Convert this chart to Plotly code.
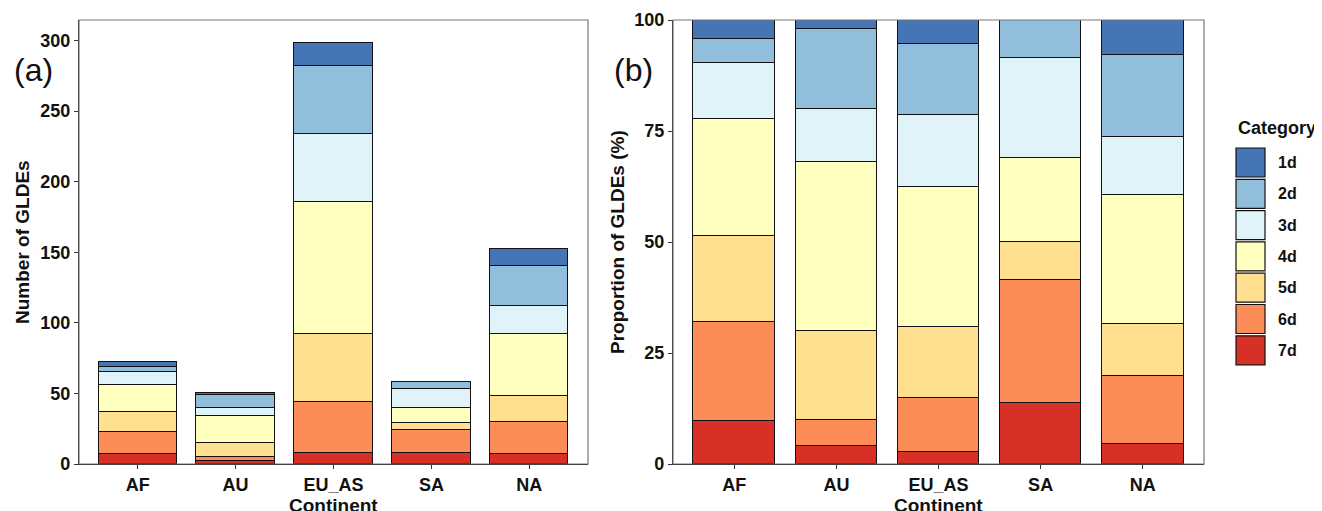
import plotly.graph_objects as go

W, H = 1322, 511
OFF = 8  # page body margin offset

continents = ["AF", "AU", "EU_AS", "SA", "NA"]
categories = ["1d", "2d", "3d", "4d", "5d", "6d", "7d"]
colors = {"1d": "#4575b4", "2d": "#91bfdb", "3d": "#e0f3f8", "4d": "#ffffbf",
          "5d": "#fee090", "6d": "#fc8d59", "7d": "#d73027"}

# counts per category, order follows continents
c_1d = [3, 1, 16, 0, 12]
c_2d = [4, 9, 48, 5, 28]
c_3d = [9, 6, 48, 13, 20]
c_4d = [19, 19, 94, 11, 44]
c_5d = [14, 10, 48, 5, 18]
c_6d = [16, 3, 36, 16, 23]
c_7d = [7, 2, 8, 8, 7]
counts = {"1d": c_1d, "2d": c_2d, "3d": c_3d, "4d": c_4d, "5d": c_5d, "6d": c_6d, "7d": c_7d}

totals = [sum(counts[c][i] for c in categories) for i in range(len(continents))]

# layout in reference pixels
PLOT_TOP, PLOT_BOT = 20, 464
PH = PLOT_BOT - PLOT_TOP
L_X0, L_X1 = 79, 588
R_X0, R_X1 = 673, 1204

def px_x(p):
    return (p - OFF) / W

def px_y(p):
    return (PLOT_BOT - p) / PH

FONT = "Liberation Sans, Arial, sans-serif"

fig = go.Figure()
xs = list(range(len(continents)))
for cat in reversed(categories):  # 7d at bottom
    fig.add_trace(go.Bar(x=xs, y=counts[cat], name=cat, width=0.8,
                         marker=dict(color=colors[cat], line=dict(color="#111111", width=1.2)),
                         xaxis="x", yaxis="y", showlegend=False))
for cat in reversed(categories):
    pct = [counts[cat][i] / totals[i] * 100 for i in range(len(continents))]
    fig.add_trace(go.Bar(x=xs, y=pct, name=cat, width=0.8,
                         marker=dict(color=colors[cat], line=dict(color="#111111", width=1.2)),
                         xaxis="x2", yaxis="y2", showlegend=False))

tickfont = dict(family=FONT, size=18, color="#111111")
common_x = dict(tickmode="array", tickvals=xs, ticktext=["<b>%s</b>" % c for c in continents],
                range=[-0.6, 4.6], showline=True, linecolor="#111111", linewidth=1.2,
                ticks="outside", ticklen=4, tickcolor="#333333", tickfont=tickfont,
                showgrid=False, zeroline=False, automargin=False)
common_y = dict(showline=True, linecolor="#111111", linewidth=1.2, ticks="outside", ticklen=4,
                tickcolor="#333333", tickfont=tickfont, showgrid=False, zeroline=False,
                automargin=False)

left_ticks = [0, 50, 100, 150, 200, 250, 300]
right_ticks = [0, 25, 50, 75, 100]

fig.update_layout(
    width=W, height=H, barmode="stack", bargap=0,
    margin=dict(l=0, r=0, t=PLOT_TOP - OFF, b=H - (PLOT_BOT - OFF)),
    plot_bgcolor="white", paper_bgcolor="white",
    xaxis=dict(domain=[px_x(L_X0), px_x(L_X1)], anchor="y", **common_x),
    yaxis=dict(domain=[0, 1], anchor="x", range=[0, 314.6], tickvals=left_ticks,
               ticktext=["<b>%d</b>" % v for v in left_ticks], **common_y),
    xaxis2=dict(domain=[px_x(R_X0), px_x(R_X1)], anchor="y2", **common_x),
    yaxis2=dict(domain=[0, 1], anchor="x2", range=[0, 100], tickvals=right_ticks,
                ticktext=["<b>%d</b>" % v for v in right_ticks], **common_y),
)

shapes = []
# panel borders (grey) top/right
for x0, x1 in [(L_X0, L_X1), (R_X0, R_X1)]:
    shapes.append(dict(type="rect", xref="paper", yref="paper", x0=px_x(x0), x1=px_x(x1),
                       y0=0, y1=1, line=dict(color="#777777", width=1.2), layer="above"))

annotations = []
title_font = dict(family=FONT, size=19, color="#111111")
annotations.append(dict(text="<b>Continent</b>", xref="paper", yref="paper",
                        x=px_x((L_X0 + L_X1) / 2), y=px_y(505), showarrow=False,
                        font=title_font, xanchor="center", yanchor="middle"))
annotations.append(dict(text="<b>Continent</b>", xref="paper", yref="paper",
                        x=px_x((R_X0 + R_X1) / 2), y=px_y(505), showarrow=False,
                        font=title_font, xanchor="center", yanchor="middle"))
annotations.append(dict(text="<b>Number of GLDEs</b>", xref="paper", yref="paper",
                        x=px_x(22), y=px_y(242), showarrow=False, textangle=-90,
                        font=title_font, xanchor="center", yanchor="middle"))
annotations.append(dict(text="<b>Proportion of GLDEs (%)</b>", xref="paper", yref="paper",
                        x=px_x(617), y=px_y(242), showarrow=False, textangle=-90,
                        font=title_font, xanchor="center", yanchor="middle"))
panel_font = dict(family=FONT, size=32, color="#111111")
annotations.append(dict(text="(a)", xref="paper", yref="paper", x=px_x(33), y=px_y(70),
                        showarrow=False, font=panel_font, xanchor="center", yanchor="middle"))
annotations.append(dict(text="(b)", xref="paper", yref="paper", x=px_x(633), y=px_y(70),
                        showarrow=False, font=panel_font, xanchor="center", yanchor="middle"))

# legend drawn manually
annotations.append(dict(text="<b>Category</b>", xref="paper", yref="paper", x=px_x(1236),
                        y=px_y(128), showarrow=False, font=dict(family=FONT, size=18, color="#111111"),
                        xanchor="left", yanchor="middle"))
for i, cat in enumerate(categories):
    top = 148 + i * 31.3
    shapes.append(dict(type="rect", xref="paper", yref="paper", x0=px_x(1236), x1=px_x(1265),
                       y0=px_y(top + 29), y1=px_y(top), fillcolor=colors[cat],
                       line=dict(color="#111111", width=1.2)))
    annotations.append(dict(text="<b>%s</b>" % cat, xref="paper", yref="paper", x=px_x(1276),
                            y=px_y(top + 14.5), showarrow=False,
                            font=dict(family=FONT, size=16, color="#111111"),
                            xanchor="left", yanchor="middle"))

fig.update_layout(shapes=shapes, annotations=annotations)
fig.write_html("out.html")
